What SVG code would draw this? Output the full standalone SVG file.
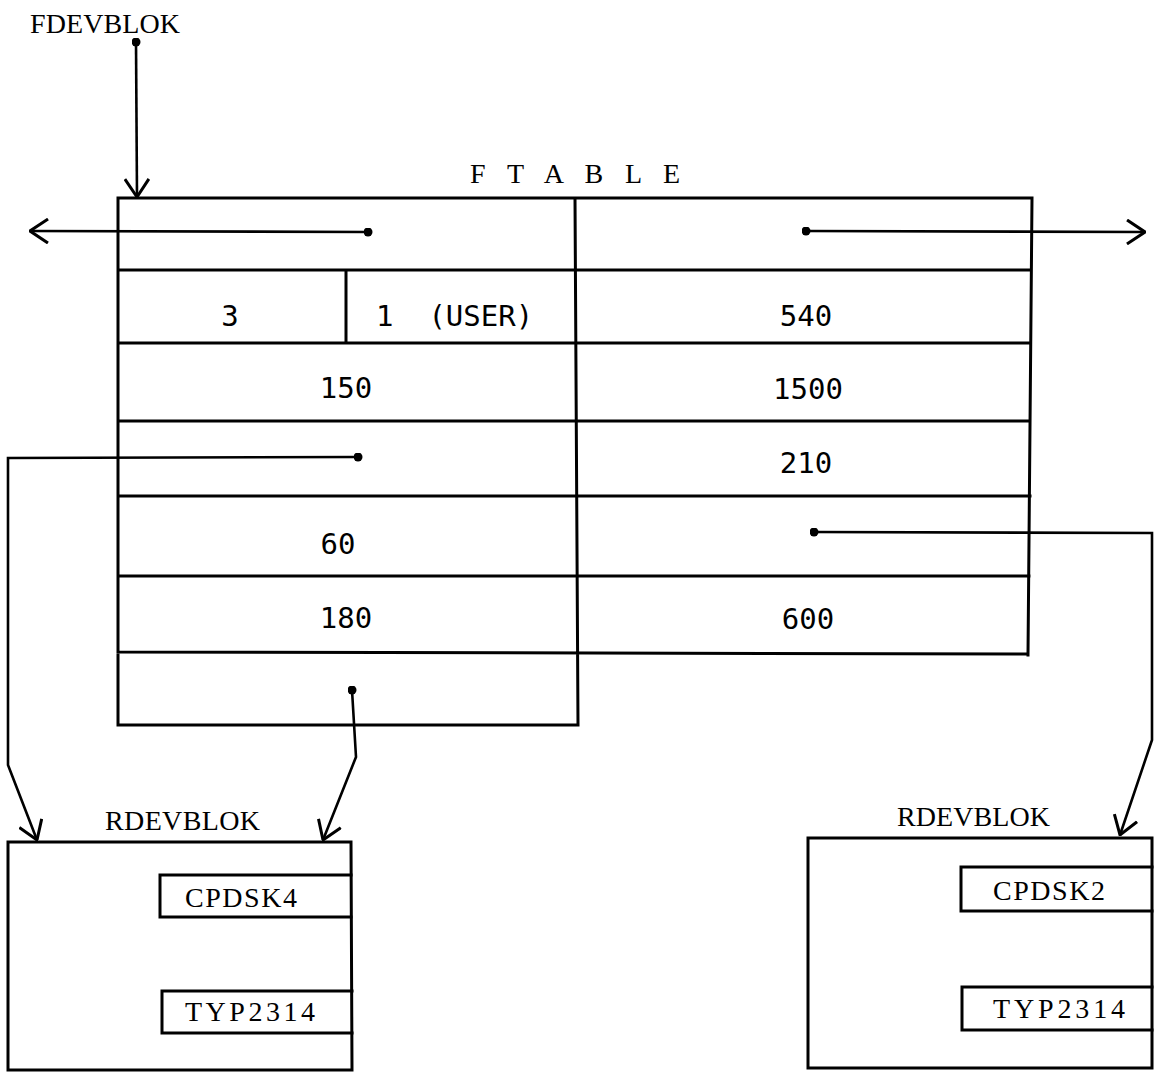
<svg xmlns="http://www.w3.org/2000/svg" width="1159" height="1072" viewBox="0 0 1159 1072">
<style>
.ln{fill:none;stroke:#000;stroke-width:3;stroke-linecap:square}
.cn{fill:none;stroke:#000;stroke-width:2.6}
.lab{font-family:"Liberation Serif","Times New Roman",serif;font-size:28px;fill:#000}
.num{font-family:"DejaVu Sans Mono","Liberation Mono",monospace;font-size:29px;fill:#000;white-space:pre}
</style>
<defs>
<marker id="ah" viewBox="0 0 20 26" refX="19" refY="13" markerWidth="20" markerHeight="26" markerUnits="userSpaceOnUse" orient="auto">
<path d="M1,1 L19,13 L1,25" fill="none" stroke="#000" stroke-width="3"/>
</marker>
<marker id="dot" viewBox="0 0 10 10" refX="5" refY="5" markerWidth="9" markerHeight="9" markerUnits="userSpaceOnUse">
<circle cx="5" cy="5" r="5" fill="#000"/>
</marker>
</defs>
<rect width="1159" height="1072" fill="#fff"/>

<g id="fdevblok">
<text class="lab" x="30" y="33" textLength="150" lengthAdjust="spacing">FDEVBLOK</text>
</g>

<g id="ftable">
<text class="lab" x="470" y="183" textLength="210" lengthAdjust="spacing">F T A B L E</text>
<path class="ln" d="M118,198 L1032,198 L1028,655 M118,198 L118,725 L578,725 M575,198 L578,725 M118,270 L1031,270 M118,343 L1030,343 M118,421 L1030,421 M118,496 L1030,496 M118,576 L1029,576 M118,652 L1028,654 M346,270 L346,343"/>
<text class="num" x="230" y="326" text-anchor="middle">3</text>
<text class="num" x="376" y="326" xml:space="preserve">1  (USER)</text>
<text class="num" x="806" y="326" text-anchor="middle">540</text>
<text class="num" x="346" y="398" text-anchor="middle">150</text>
<text class="num" x="808" y="399" text-anchor="middle">1500</text>
<text class="num" x="806" y="473" text-anchor="middle">210</text>
<text class="num" x="338" y="554" text-anchor="middle">60</text>
<text class="num" x="346" y="628" text-anchor="middle">180</text>
<text class="num" x="808" y="629" text-anchor="middle">600</text>
</g>

<g id="rdevblok-left">
<text class="lab" x="105" y="830" textLength="155" lengthAdjust="spacing">RDEVBLOK</text>
<path class="ln" d="M8,842 L351,842 L352,1070 L8,1070 Z"/>
<path class="ln" d="M351,875 L160,875 L160,917 L351,917 M352,991 L162,991 L162,1033 L352,1033"/>
<text class="lab" x="185" y="907" textLength="112" lengthAdjust="spacing">CPDSK4</text>
<text class="lab" x="185" y="1021" textLength="130" lengthAdjust="spacing">TYP2314</text>
</g>

<g id="rdevblok-right">
<text class="lab" x="897" y="826" textLength="153" lengthAdjust="spacing">RDEVBLOK</text>
<path class="ln" d="M808,838 L1152,838 L1152,1068 L808,1068 Z"/>
<path class="ln" d="M1152,867 L961,867 L961,911 L1152,911 M1152,987 L962,987 L962,1030 L1152,1030"/>
<text class="lab" x="993" y="900" textLength="112" lengthAdjust="spacing">CPDSK2</text>
<text class="lab" x="993" y="1018" textLength="132" lengthAdjust="spacing">TYP2314</text>
</g>

<g id="connectors">
<path class="cn" d="M136,42 L137,197" marker-start="url(#dot)" marker-end="url(#ah)"/>
<path class="cn" d="M368,232 L30,231" marker-start="url(#dot)" marker-end="url(#ah)"/>
<path class="cn" d="M806,231 L1145,232" marker-start="url(#dot)" marker-end="url(#ah)"/>
<path class="cn" d="M358,457 L8,458 L8,765 L37,840" marker-start="url(#dot)" marker-end="url(#ah)"/>
<path class="cn" d="M352,690 L356,757 L323,840" marker-start="url(#dot)" marker-end="url(#ah)"/>
<path class="cn" d="M814,532 L1152,533 L1152,740 L1120,835" marker-start="url(#dot)" marker-end="url(#ah)"/>
</g>
</svg>
